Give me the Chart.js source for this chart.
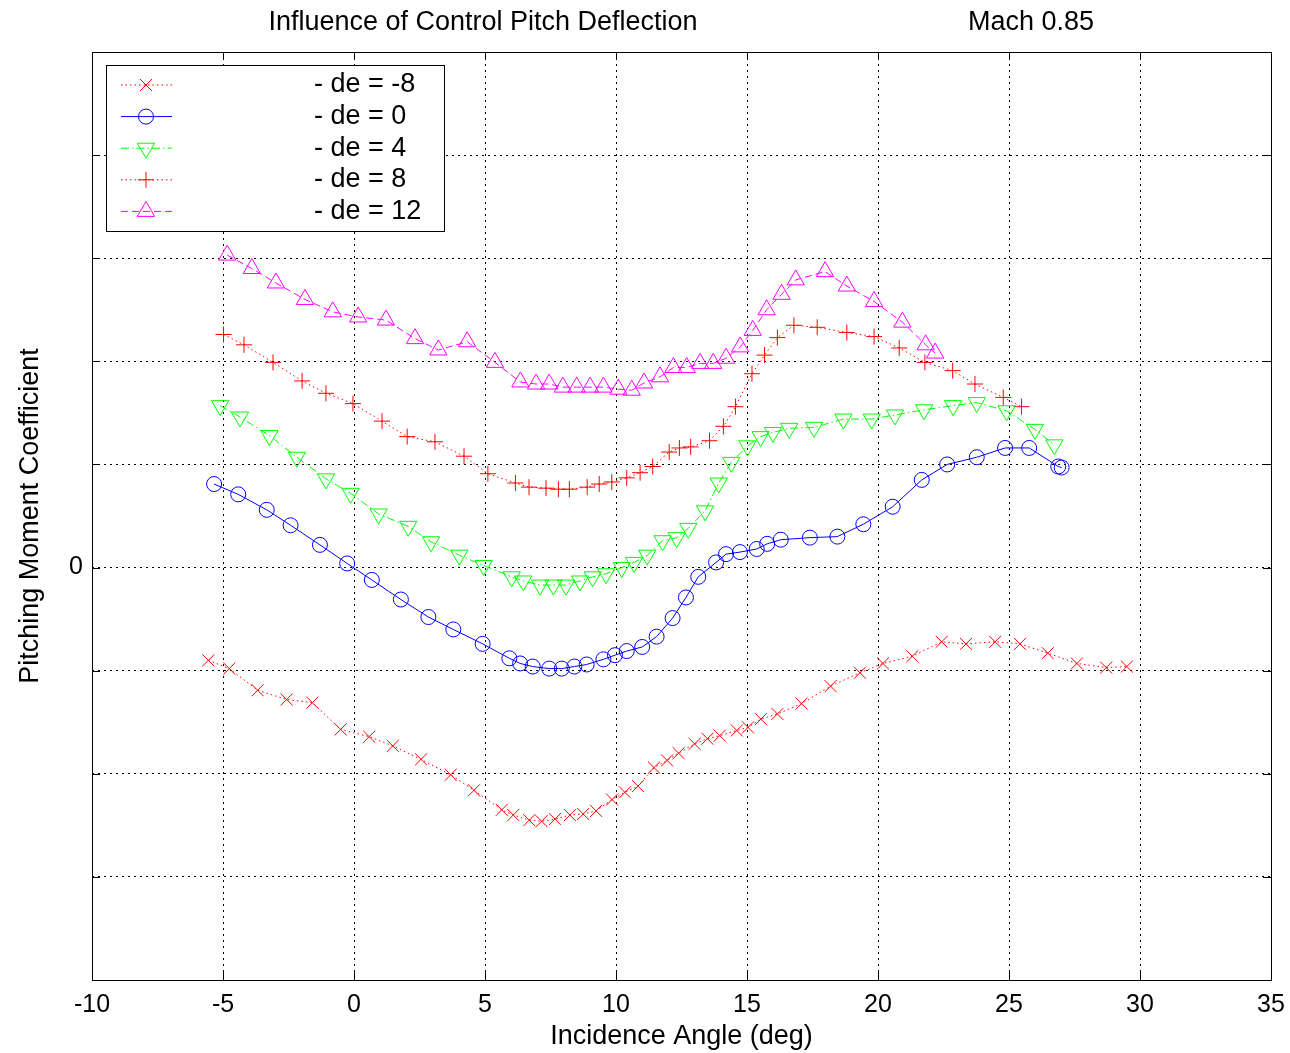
<!DOCTYPE html>
<html>
<head>
<meta charset="utf-8">
<title>Influence of Control Pitch Deflection</title>
<script src="https://cdn.jsdelivr.net/npm/chart.js@4.4.0/dist/chart.umd.min.js"></script>
<style>
  html, body { margin: 0; padding: 0; background: #fff; }
  #wrap { width: 1290px; height: 1053px; }
</style>
</head>
<body>
<div id="wrap"><canvas id="pitchChart" width="1290" height="1053"></canvas></div>
<script>
// ===== data =====
const xTicks = [-10, -5, 0, 5, 10, 15, 20, 25, 30, 35];
const yTicks = [-4, -3, -2, -1, 0, 1, 2, 3, 4, 5];
const yTickLabels = ['', '', '', '', '0', '', '', '', '', ''];

const seriesLabels = ['- de = -8', '- de = 0', '- de = 4', '- de = 8', '- de = 12'];

const xDeM8 = [-5.56, -4.76, -3.68, -2.57, -1.59, -0.51, 0.58, 1.48, 2.56, 3.69, 4.58, 5.64, 6.08, 6.69, 7.16, 7.67, 8.24, 8.75, 9.24, 9.85, 10.34, 10.84, 11.45, 11.95, 12.39, 13.00, 13.49, 13.96, 14.61, 15.04, 15.53, 16.16, 17.08, 18.19, 19.31, 20.19, 21.31, 22.43, 23.36, 24.47, 25.42, 26.48, 27.59, 28.71, 29.50];
const yDeM8 = [-0.90, -0.98, -1.19, -1.28, -1.31, -1.57, -1.64, -1.73, -1.86, -2.01, -2.16, -2.35, -2.40, -2.45, -2.46, -2.44, -2.40, -2.39, -2.36, -2.25, -2.18, -2.12, -1.94, -1.87, -1.80, -1.71, -1.66, -1.63, -1.58, -1.55, -1.47, -1.42, -1.32, -1.15, -1.02, -0.93, -0.86, -0.72, -0.74, -0.72, -0.74, -0.83, -0.93, -0.97, -0.96];

const xDe0 = [-5.34, -4.42, -3.33, -2.42, -1.30, -0.26, 0.68, 1.79, 2.84, 3.79, 4.91, 5.93, 6.34, 6.82, 7.45, 7.93, 8.41, 8.88, 9.52, 9.96, 10.41, 11.00, 11.55, 12.16, 12.67, 13.14, 13.82, 14.20, 14.73, 15.37, 15.77, 16.29, 17.40, 18.45, 19.44, 20.56, 21.67, 22.64, 23.77, 24.85, 25.77, 26.88, 27.01];
const yDe0 = [0.81, 0.71, 0.56, 0.41, 0.22, 0.04, -0.12, -0.31, -0.48, -0.60, -0.74, -0.88, -0.93, -0.96, -0.98, -0.98, -0.96, -0.94, -0.89, -0.85, -0.81, -0.77, -0.67, -0.49, -0.29, -0.09, 0.05, 0.13, 0.15, 0.18, 0.23, 0.27, 0.29, 0.30, 0.42, 0.59, 0.85, 1.00, 1.07, 1.16, 1.16, 0.98, 0.97];

const xDe4 = [-5.11, -4.35, -3.23, -2.18, -1.07, -0.13, 0.94, 2.07, 2.94, 4.02, 4.95, 6.02, 6.46, 7.10, 7.61, 8.09, 8.63, 9.11, 9.62, 10.22, 10.69, 11.19, 11.78, 12.32, 12.76, 13.40, 13.92, 14.40, 15.02, 15.52, 15.99, 16.61, 17.56, 18.68, 19.76, 20.65, 21.76, 22.87, 23.77, 24.91, 25.99, 26.73];
const yDe4 = [1.57, 1.46, 1.28, 1.07, 0.86, 0.72, 0.52, 0.40, 0.25, 0.12, 0.02, -0.09, -0.13, -0.17, -0.17, -0.17, -0.13, -0.09, -0.06, 0.00, 0.05, 0.12, 0.26, 0.29, 0.38, 0.55, 0.82, 1.02, 1.18, 1.27, 1.31, 1.35, 1.36, 1.44, 1.44, 1.48, 1.53, 1.57, 1.60, 1.52, 1.34, 1.19];

const xDe8 = [-4.98, -4.20, -3.09, -1.98, -1.07, -0.04, 1.07, 2.03, 3.09, 4.20, 5.11, 6.16, 6.68, 7.33, 7.80, 8.22, 8.90, 9.36, 9.84, 10.41, 10.92, 11.40, 12.03, 12.42, 12.85, 13.57, 14.10, 14.56, 15.19, 15.67, 16.16, 16.79, 17.68, 18.81, 19.85, 20.81, 21.79, 22.85, 23.70, 24.78, 25.48];
const yDe8 = [2.26, 2.16, 1.99, 1.81, 1.69, 1.59, 1.42, 1.27, 1.22, 1.08, 0.91, 0.82, 0.78, 0.77, 0.76, 0.76, 0.78, 0.81, 0.83, 0.87, 0.92, 0.98, 1.12, 1.16, 1.17, 1.23, 1.37, 1.56, 1.88, 2.06, 2.23, 2.35, 2.33, 2.28, 2.24, 2.13, 1.99, 1.91, 1.78, 1.65, 1.56];

const xDe12 = [-4.84, -3.90, -2.98, -1.87, -0.81, 0.16, 1.22, 2.33, 3.22, 4.32, 5.38, 6.35, 6.95, 7.45, 7.97, 8.50, 9.01, 9.52, 10.09, 10.60, 11.07, 11.68, 12.19, 12.70, 13.21, 13.71, 14.20, 14.74, 15.22, 15.75, 16.32, 16.86, 17.98, 18.81, 19.85, 20.93, 21.82, 22.18];
const yDe12 = [3.03, 2.90, 2.76, 2.60, 2.48, 2.43, 2.40, 2.22, 2.11, 2.19, 1.99, 1.80, 1.78, 1.78, 1.75, 1.75, 1.75, 1.75, 1.73, 1.72, 1.79, 1.85, 1.94, 1.94, 1.98, 1.98, 2.03, 2.14, 2.30, 2.50, 2.65, 2.79, 2.87, 2.73, 2.58, 2.38, 2.16, 2.08];

// ===== helpers =====
const FONT = 'Arial, "Liberation Sans", Helvetica, sans-serif';

function toPoints(xs, ys) {
    return xs.map((x, i) => ({ x: x, y: ys[i] }));
}

function makeSeries(label, xs, ys, color, dash, style, radius, rotation) {
    return {
        label: label,
        data: toPoints(xs, ys),
        showLine: true,
        borderColor: color,
        borderWidth: 1,
        borderDash: dash,
        backgroundColor: 'rgba(0,0,0,0)',
        pointStyle: style,
        pointRadius: radius,
        pointRotation: rotation || 0,
        pointBorderColor: color,
        pointBackgroundColor: 'rgba(0,0,0,0)',
        pointBorderWidth: 1,
        tension: 0
    };
}

// Box, inner tick marks, title text and legend (MATLAB look)
const matlabFrame = {
    id: 'matlabFrame',
    afterDraw(chart) {
        const ctx = chart.ctx;
        const area = chart.chartArea;
        const xs = chart.scales.x;
        const ys = chart.scales.y;
        ctx.save();

        // inner tick marks
        ctx.strokeStyle = '#000';
        ctx.lineWidth = 1;
        ctx.beginPath();
        xTicks.forEach(v => {
            const px = Math.round(xs.getPixelForValue(v)) + 0.5;
            ctx.moveTo(px, area.bottom); ctx.lineTo(px, area.bottom - 8);
            ctx.moveTo(px, area.top); ctx.lineTo(px, area.top + 8);
        });
        yTicks.forEach(v => {
            const py = Math.round(ys.getPixelForValue(v)) + 0.5;
            ctx.moveTo(area.left, py); ctx.lineTo(area.left + 8, py);
            ctx.moveTo(area.right, py); ctx.lineTo(area.right - 8, py);
        });
        ctx.stroke();

        // box
        ctx.strokeRect(Math.round(area.left) + 0.5, Math.round(area.top) + 0.5,
            Math.round(area.right - area.left), Math.round(area.bottom - area.top));

        // title (two parts, like the original)
        ctx.fillStyle = '#000';
        ctx.font = '27px ' + FONT;
        ctx.textAlign = 'center';
        ctx.textBaseline = 'middle';
        ctx.fillText('Influence of Control Pitch Deflection', 483, 23);
        ctx.fillText('Mach 0.85', 1031, 23);

        // legend
        const lx = 106.5, ly = 65.5, lw = 338, lh = 166;
        ctx.fillStyle = '#fff';
        ctx.fillRect(lx, ly, lw, lh);
        ctx.strokeStyle = '#000';
        ctx.strokeRect(lx, ly, lw, lh);
        chart.data.datasets.forEach((ds, i) => {
            const cy = 85 + i * 31.6;
            ctx.save();
            ctx.strokeStyle = ds.borderColor;
            ctx.lineWidth = 1;
            ctx.setLineDash(ds.borderDash || []);
            ctx.beginPath();
            ctx.moveTo(121, cy);
            ctx.lineTo(172, cy);
            ctx.stroke();
            ctx.setLineDash([]);
            ctx.fillStyle = 'rgba(0,0,0,0)';
            Chart.helpers.drawPoint(ctx, {
                pointStyle: ds.pointStyle,
                radius: ds.pointRadius,
                rotation: ds.pointRotation,
                borderWidth: 1
            }, 146, cy);
            ctx.restore();
            ctx.fillStyle = '#000';
            ctx.font = '27px ' + FONT;
            ctx.textAlign = 'left';
            ctx.textBaseline = 'middle';
            ctx.fillText(ds.label, 314, cy);
        });

        ctx.restore();
    }
};

const ctx = document.getElementById('pitchChart').getContext('2d');

new Chart(ctx, {
    type: 'scatter',
    data: {
        datasets: [
            makeSeries(seriesLabels[0], xDeM8, yDeM8, '#ff0000', [1.5, 3], 'crossRot', 8.5),
            makeSeries(seriesLabels[1], xDe0, yDe0, '#0000ff', [], 'circle', 7.5),
            makeSeries(seriesLabels[2], xDe4, yDe4, '#00ff00', [8, 3, 1.5, 3], 'triangle', 10, 180),
            makeSeries(seriesLabels[3], xDe8, yDe8, '#ff0000', [1.5, 3], 'cross', 8),
            makeSeries(seriesLabels[4], xDe12, yDe12, '#ff00ff', [7, 4], 'triangle', 10)
        ]
    },
    options: {
        responsive: false,
        animation: false,
        layout: { padding: { top: 52, right: 19, left: 0, bottom: 0 } },
        plugins: {
            legend: { display: false },
            tooltip: { enabled: false }
        },
        scales: {
            x: {
                type: 'linear',
                min: -10,
                max: 35,
                afterBuildTicks: scale => { scale.ticks = xTicks.map(v => ({ value: v })); },
                afterFit: scale => {
                    scale.height = 73;
                    scale.paddingLeft = 0;
                    scale.paddingRight = 0;
                },
                ticks: {
                    color: '#000',
                    padding: 10,
                    maxRotation: 0,
                    font: { family: FONT, size: 25 },
                    callback: value => String(value)
                },
                grid: { color: '#000', lineWidth: 1, drawTicks: false },
                border: { display: false, dash: [2, 4] },
                title: {
                    display: true,
                    text: 'Incidence Angle (deg)',
                    color: '#000',
                    font: { family: FONT, size: 27 },
                    padding: { top: 0, bottom: 0 }
                }
            },
            y: {
                type: 'linear',
                min: -4,
                max: 5,
                afterBuildTicks: scale => { scale.ticks = yTicks.map(v => ({ value: v })); },
                afterFit: scale => {
                    scale.width = 92;
                    scale.paddingTop = 0;
                    scale.paddingBottom = 0;
                },
                ticks: {
                    color: '#000',
                    padding: 9,
                    font: { family: FONT, size: 25 },
                    callback: (value, index) => yTickLabels[index]
                },
                grid: { color: '#000', lineWidth: 1, drawTicks: false },
                border: { display: false, dash: [2, 4] },
                title: {
                    display: true,
                    text: 'Pitching Moment Coefficient',
                    color: '#000',
                    font: { family: FONT, size: 27 },
                    padding: { top: 14, bottom: 0 }
                }
            }
        }
    },
    plugins: [matlabFrame]
});
</script>
</body>
</html>
